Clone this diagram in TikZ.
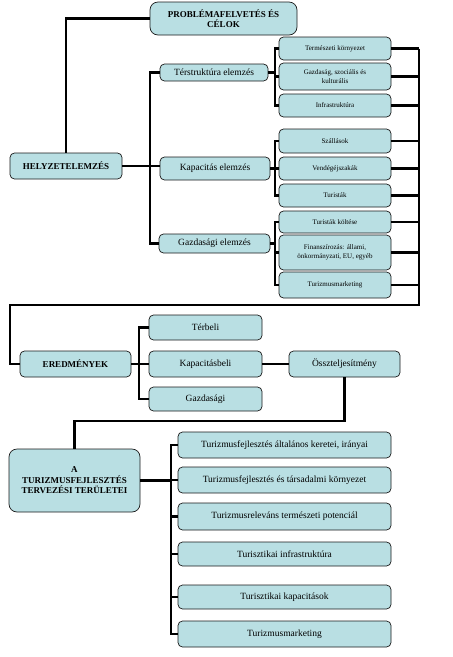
\documentclass[tikz,border=0pt]{standalone}
\usepackage{fontspec}
\setmainfont{Liberation Serif}
\definecolor{boxfill}{HTML}{B9DFE3}
\definecolor{boxline}{HTML}{1A1A1A}
\tikzset{
  bx/.style={draw=boxline, line width=0.7pt, fill=boxfill, rounded corners=4.5pt, inner sep=1pt, align=center},
  bigbx/.style={bx, rounded corners=8pt},
  fmed/.style={font=\fontsize{9.5}{11}\selectfont},
  fsmall/.style={font=\fontsize{7}{8.5}\selectfont},
  fbold/.style={font=\fontsize{9}{10.5}\selectfont\bfseries},
  conn/.style={draw=black, line width=2.1pt},
}
\begin{document}
\begin{tikzpicture}[x=1pt, y=-1pt]
\useasboundingbox (0,0) rectangle (453,657);
% top
\node[bigbx, fbold, minimum width=147pt, minimum height=33pt] (prob) at (223.5,18.5) {PROBLÉMAFELVETÉS ÉS\\CÉLOK};
\node[bx, fbold, minimum width=112pt, minimum height=26pt] (helyz) at (66,166) {HELYZETELEMZÉS};
% level 2
\node[bx, fmed, minimum width=108pt, minimum height=17pt] (ter) at (214,72.5) {Térstruktúra elemzés};
\node[bx, fmed, minimum width=110pt, minimum height=23pt] (kap) at (215,168.5) {Kapacitás elemzés};
\node[bx, fmed, minimum width=111pt, minimum height=19pt] (gaz) at (214.5,243.5) {Gazdasági elemzés};
% level 3
\node[bx, fsmall, minimum width=112pt, minimum height=23pt] (term) at (335,48.5) {Természeti környezet};
\node[bx, fsmall, minimum width=112pt, minimum height=27pt] (gazd) at (335,76.5) {Gazdaság, szociális és\\kulturális};
\node[bx, fsmall, minimum width=112pt, minimum height=23pt] (infra) at (335,105.5) {Infrastruktúra};
\node[bx, fsmall, minimum width=112pt, minimum height=24pt] (szall) at (335,141) {Szállások};
\node[bx, fsmall, minimum width=112pt, minimum height=23pt] (vend) at (335,168.5) {Vendégéjszakák};
\node[bx, fsmall, minimum width=112pt, minimum height=23pt] (tur) at (335,195.5) {Turisták};
\node[bx, fsmall, minimum width=112pt, minimum height=22pt] (kolt) at (335,222) {Turisták költése};
\node[bx, fsmall, minimum width=112pt, minimum height=35pt] (fin) at (335,252.5) {Finanszírozás: állami,\\önkormányzati, EU, egyéb};
\node[bx, fsmall, minimum width=112pt, minimum height=26pt] (mark) at (335,285) {Turizmusmarketing};
% results
\node[bx, fbold, minimum width=111pt, minimum height=26pt] (ered) at (75.5,364) {EREDMÉNYEK};
\node[bx, fmed, minimum width=113pt, minimum height=25pt] (terb) at (205.5,327.5) {Térbeli};
\node[bx, fmed, minimum width=113pt, minimum height=26pt] (kapb) at (205.5,364) {Kapacitásbeli};
\node[bx, fmed, minimum width=113pt, minimum height=24pt] (gazb) at (205.5,399) {Gazdasági};
\node[bx, fmed, minimum width=111pt, minimum height=26pt] (ossz) at (344.5,364) {Összteljesítmény};
% planning areas
\node[bigbx, fbold, minimum width=131pt, minimum height=63pt] (atur) at (74.5,480.5) {A\\TURIZMUSFEJLESZTÉS\\TERVEZÉSI TERÜLETEI};
\node[bx, fmed, minimum width=213pt, minimum height=26pt] (b1) at (284.5,445) {Turizmusfejlesztés általános keretei, irányai};
\node[bx, fmed, minimum width=213pt, minimum height=26pt] (b2) at (284.5,480) {Turizmusfejlesztés és társadalmi környezet};
\node[bx, fmed, minimum width=213pt, minimum height=27pt] (b3) at (284.5,516.5) {Turizmusreleváns természeti potenciál};
\node[bx, fmed, minimum width=213pt, minimum height=24pt] (b4) at (284.5,554) {Turisztikai infrastruktúra};
\node[bx, fmed, minimum width=213pt, minimum height=24pt] (b5) at (284.5,597) {Turisztikai kapacitások};
\node[bx, fmed, minimum width=213pt, minimum height=26pt] (b6) at (284.5,634) {Turizmusmarketing};
% junction coordinates
\coordinate (jA) at (150,0);
\coordinate (jB) at (275,0);
\coordinate (jR) at (419,0);
\coordinate (cR) at (419,305);
\coordinate (cL) at (10,305);
\coordinate (jE) at (139,0);
\coordinate (cM) at (0,421);
\coordinate (jT) at (171,0);
% connectors
\draw[conn] (helyz.north) |- (prob.west);
\draw[conn] (helyz.east) -- (helyz.east -| kap.west);
\draw[conn] (ter.west) -- (ter.west -| jA) -- (gaz.west -| jA) -- (gaz.west);
% brackets level 3
\draw[conn] (ter.east) -- (ter.east -| jB);
\draw[conn] (term.west) -- (term.west -| jB) -- (infra.west -| jB) -- (infra.west);
\draw[conn] (gazd.west) -- (gazd.west -| jB);
\draw[conn] (kap.east) -- (kap.east -| jB);
\draw[conn] (szall.west) -- (szall.west -| jB) -- (tur.west -| jB) -- (tur.west);
\draw[conn] (vend.west) -- (vend.west -| jB);
\draw[conn] (gaz.east) -- (gaz.east -| jB);
\draw[conn] (kolt.west) -- (kolt.west -| jB) -- (mark.west -| jB) -- (mark.west);
\draw[conn] (fin.west) -- (fin.west -| jB);
% right side collector
\foreach \n in {term,gazd,infra,szall,vend,tur,kolt,fin,mark}
  \draw[conn] (\n.east) -- (\n.east -| jR);
\draw[conn] (term.east -| jR) -- (cR) -- (cL) |- (ered.west);
% results
\draw[conn] (ered.east) -- (kapb.west);
\draw[conn] (terb.west) -- (terb.west -| jE) -- (gazb.west -| jE) -- (gazb.west);
\draw[conn] (kapb.east) -- (ossz.west);
\draw[conn] (ossz.south) -- (ossz.south |- cM) -| (atur.north);
% planning areas
\draw[conn] (atur.east) -- (atur.east -| jT);
\draw[conn] (b1.west) -- (b1.west -| jT) -- (b6.west -| jT) -- (b6.west);
\foreach \n in {b2,b3,b4,b5}
  \draw[conn] (\n.west) -- (\n.west -| jT);
\end{tikzpicture}
\end{document}
